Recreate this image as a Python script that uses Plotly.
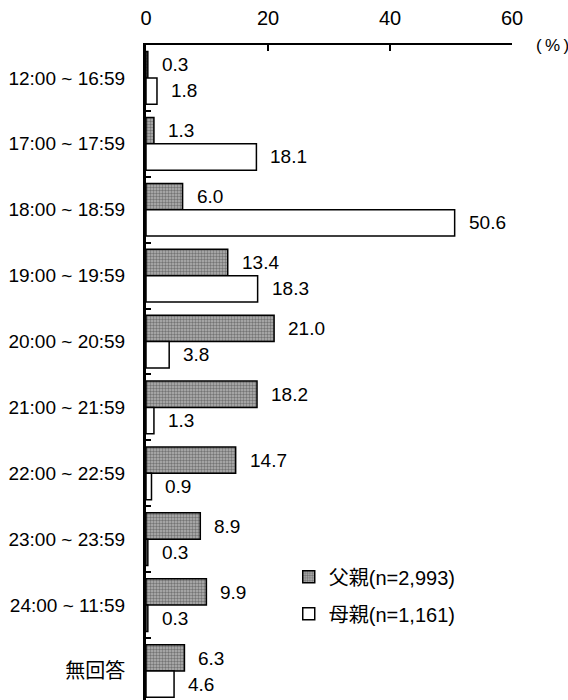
import plotly.graph_objects as go

# Time slots (rows, top to bottom) and share of respondents in each, in %
slots = ["12:00 ~ 16:59", "17:00 ~ 17:59", "18:00 ~ 18:59", "19:00 ~ 19:59",
         "20:00 ~ 20:59", "21:00 ~ 21:59", "22:00 ~ 22:59", "23:00 ~ 23:59",
         "24:00 ~ 11:59", "無回答"]
father = [0.3, 1.3, 6.0, 13.4, 21.0, 18.2, 14.7, 8.9, 9.9, 6.3]
mother = [1.8, 18.1, 50.6, 18.3, 3.8, 1.3, 0.9, 0.3, 0.3, 4.6]
series_names = ["父親(n=2,993)", "母親(n=1,161)"]
x_ticks = [0, 20, 40, 60]

FONT = "Liberation Sans, Arial, Noto Sans CJK JP, sans-serif"

# category labels: CJK text drawn a bit larger than the time ranges
tick_text = [s if s.isascii() else f"<span style='font-size:20px'>{s}</span>"
             for s in slots]

fig = go.Figure()
fig.add_trace(go.Bar(
    y=slots, x=father, name=series_names[0], orientation="h",
    legendgroup="f",
    marker=dict(color="#8c8c8c",
                line=dict(color="#000000", width=1.5),
                pattern=dict(shape=".", size=3, solidity=0.5,
                             fgcolor="#333333", bgcolor="#b4b4b4")),
))
fig.add_trace(go.Bar(
    y=slots, x=mother, name=series_names[1], orientation="h",
    legendgroup="m",
    marker=dict(color="#ffffff", line=dict(color="#000000", width=1.5)),
))

# value labels just past the end of each bar
annotations = []
for vals, shift in ((father, 13), (mother, -13)):
    for cat, v in zip(slots, vals):
        annotations.append(dict(
            x=v, y=cat, xref="x", yref="y", text=f"{v:.1f}",
            showarrow=False, xanchor="left", yanchor="middle",
            xshift=12, yshift=shift,
            font=dict(family=FONT, size=19, color="#000000"),
        ))
annotations.append(dict(
    x=1, y=1, xref="paper", yref="paper", text="(\u2009%\u2009)",
    showarrow=False, xanchor="left", yanchor="middle",
    xshift=22, yshift=0,
    font=dict(family=FONT, size=17, color="#000000"),
))

fig.update_layout(
    width=568, height=700,
    margin=dict(l=146, r=56, t=45, b=0),
    paper_bgcolor="#ffffff", plot_bgcolor="#ffffff",
    barmode="group", bargap=0.2, bargroupgap=0,
    font=dict(family=FONT, size=19, color="#000000"),
    showlegend=True,
    legend=dict(x=0.39, y=0.218, xanchor="left", yanchor="top",
                bgcolor="rgba(0,0,0,0)", traceorder="grouped",
                font=dict(family=FONT, size=20, color="#000000"),
                itemwidth=30, tracegroupgap=8),
    annotations=annotations,
    xaxis=dict(side="top", range=[0, 60], tickvals=x_ticks,
               showgrid=False, zeroline=False,
               showline=True, linecolor="#000000", linewidth=1.5,
               ticks="inside", ticklen=6, tickcolor="#000000", tickwidth=1.5,
               ticklabelstandoff=10,
               tickfont=dict(family=FONT, size=20, color="#000000")),
    yaxis=dict(type="category", categoryorder="array", categoryarray=slots,
               tickvals=slots, ticktext=tick_text,
               range=[9.44, -0.5],
               showgrid=False, zeroline=False,
               showline=True, linecolor="#000000", linewidth=3,
               ticks="inside", tickson="boundaries", ticklen=5,
               tickcolor="#000000", tickwidth=1.5,
               ticklabelstandoff=14,
               tickfont=dict(family=FONT, size=19, color="#000000")),
)

fig.write_html("out.html")
